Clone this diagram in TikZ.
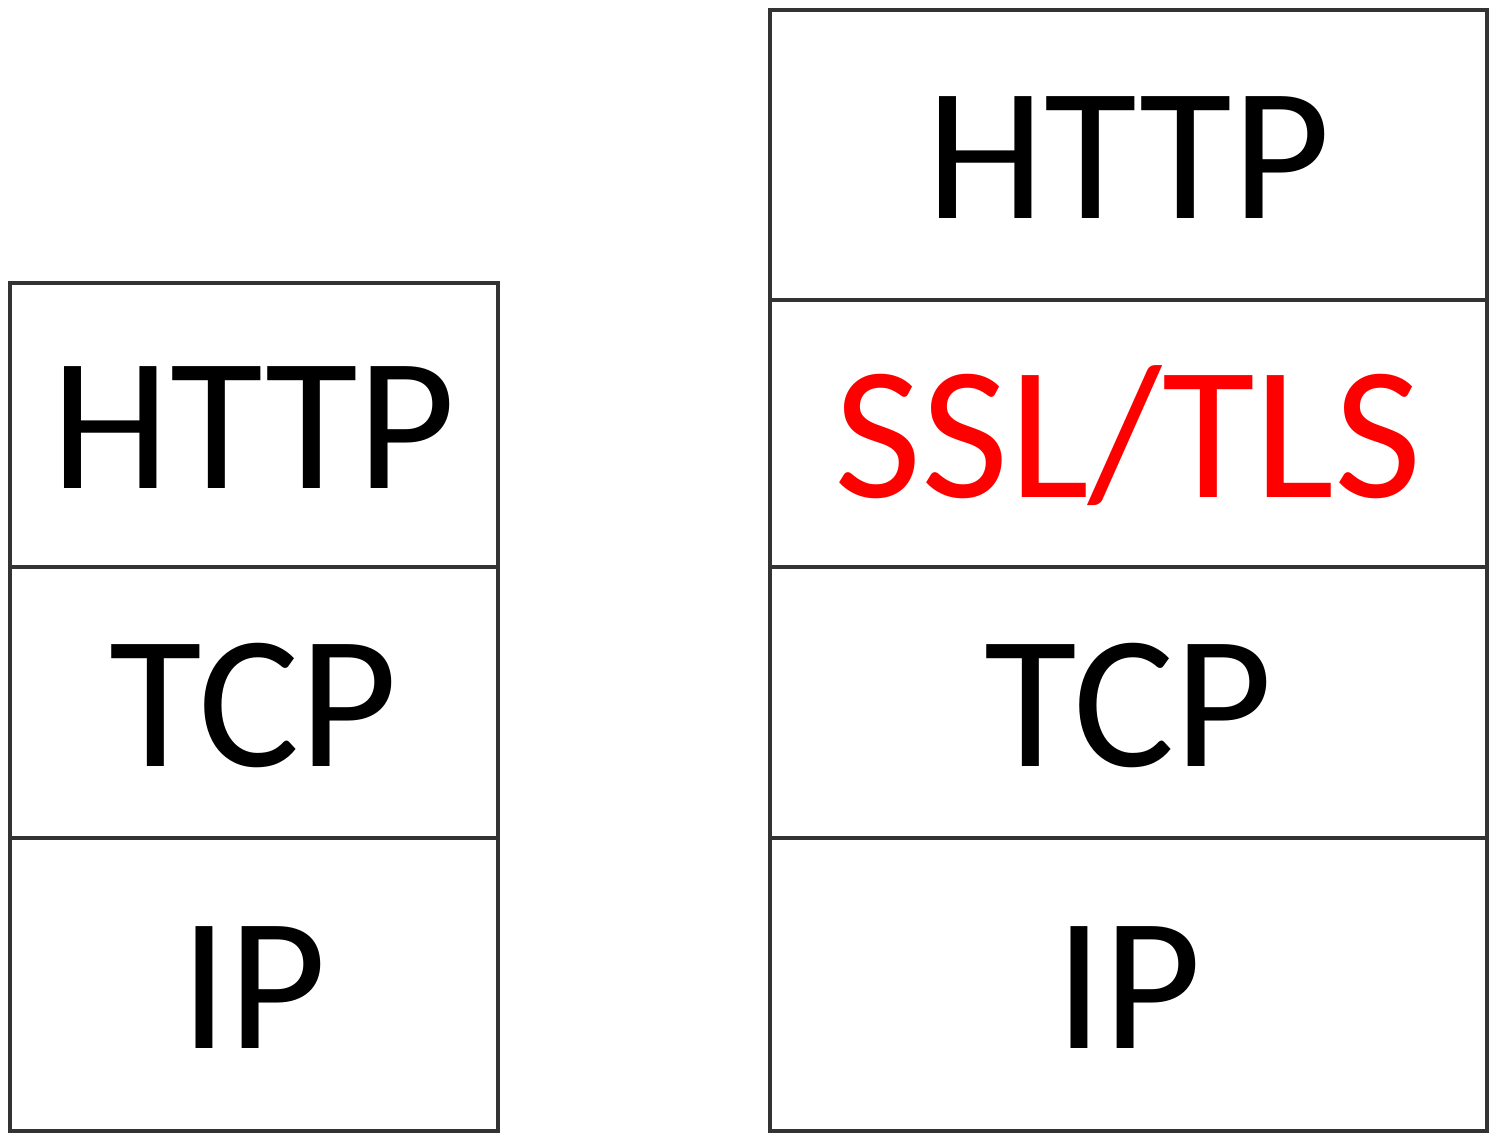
\documentclass[tikz,border=0pt]{standalone}
\usepackage{fontspec}
\setmainfont{Carlito}
\usetikzlibrary{positioning}
\tikzset{
  layer/.style={draw=black!80, line width=1.8pt, inner sep=0pt, outer sep=0pt,
    text height=64pt, text depth=0pt, font=\fontsize{95}{95}\selectfont},
  narrow/.style={layer, minimum width=244pt},
  wide/.style={layer, minimum width=358.5pt}
}
\begin{document}
\begin{tikzpicture}[x=0.5pt, y=0.5pt]
        \useasboundingbox (0,0) rectangle (1500,1143);
        
        % 左のスタック
        \node[narrow, minimum height=142pt] (httpA) at (254,718) {HTTP};
        \node[narrow, minimum height=135.5pt, below=0pt of httpA] (tcpA) {TCP};
        \node[narrow, minimum height=146.5pt, below=0pt of tcpA] (ipA) {IP};
        
        % 右のスタック
        \node[wide, minimum height=145pt] (httpB) at (1128.5,988) {HTTP};
        \node[wide, minimum height=133.5pt, below=0pt of httpB, text=red] (tls) {SSL/TLS};
        \node[wide, minimum height=135.5pt, below=0pt of tls] (tcpB) {TCP};
        \node[wide, minimum height=146.5pt, below=0pt of tcpB] (ipB) {IP};
        
    \end{tikzpicture}
\end{document}
